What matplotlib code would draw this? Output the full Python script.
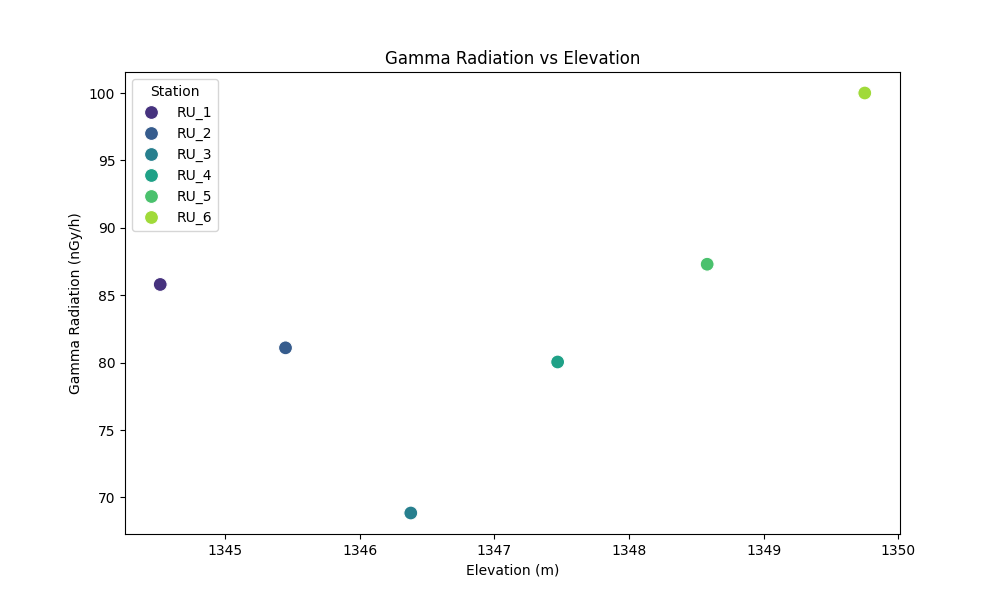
import pandas as pd
import matplotlib
matplotlib.use("Agg")
import matplotlib.pyplot as plt
import seaborn as sns

stations = ["RU_1", "RU_2", "RU_3", "RU_4", "RU_5", "RU_6"]
elevation = [1344.52, 1345.45, 1346.38, 1347.47, 1348.58, 1349.75]
gamma = [85.8, 81.1, 68.85, 80.05, 87.3, 100.0]

df = pd.DataFrame({"Station": stations, "Elevation": elevation, "Gamma": gamma})

fig, ax = plt.subplots(figsize=(10, 6))
sns.scatterplot(data=df, x="Elevation", y="Gamma", hue="Station",
                palette="viridis", s=100, ax=ax)

ax.set_title("Gamma Radiation vs Elevation")
ax.set_xlabel("Elevation (m)")
ax.set_ylabel("Gamma Radiation (nGy/h)")
ax.legend(title="Station", loc="upper left")

plt.savefig("out.png", dpi=100)
plt.close()
